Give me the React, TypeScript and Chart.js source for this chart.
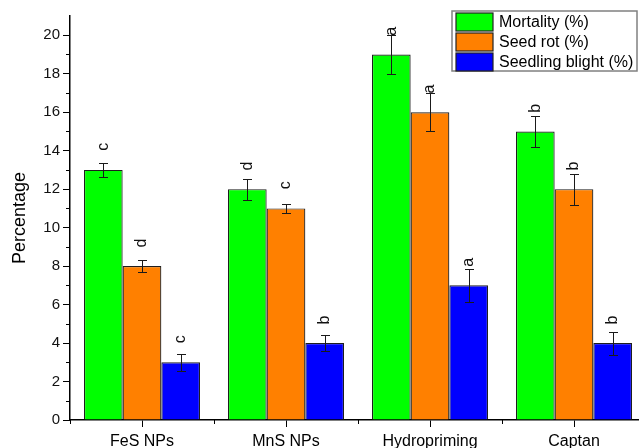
import React, { useEffect, useRef } from "react";
import { Chart, registerables } from "chart.js";

Chart.register(...registerables);

// ---- data ----
const categories = ["FeS NPs", "MnS NPs", "Hydropriming", "Captan"];
const seriesNames = ["Mortality (%)", "Seed rot (%)", "Seedling blight (%)"];
const seriesColors = ["#00FF00", "#FF8000", "#0000FF"];

const mortality = [13, 12, 19, 15];
const seedRot = [8, 11, 16, 12];
const seedlingBlight = [3, 4, 7, 4];

const mortalityErr = [0.35, 0.55, 1.0, 0.8];
const seedRotErr = [0.3, 0.22, 1.0, 0.8];
const seedlingBlightErr = [0.45, 0.4, 0.85, 0.6];

const mortalityLetters = ["c", "d", "a", "b"];
const seedRotLetters = ["d", "c", "a", "b"];
const seedlingBlightLetters = ["c", "b", "a", "b"];

const yTicks = [0, 2, 4, 6, 8, 10, 12, 14, 16, 18, 20];
const yMinorTicks = [1, 3, 5, 7, 9, 11, 13, 15, 17, 19];
const yMin = 0;
const yMax = 21;
const yTitle = "Percentage";

const seriesValues = [mortality, seedRot, seedlingBlight];
const seriesErrors = [mortalityErr, seedRotErr, seedlingBlightErr];
const seriesLetters = [mortalityLetters, seedRotLetters, seedlingBlightLetters];

const FONT = "'Liberation Sans', Arial, sans-serif";

const overlayPlugin = {
  id: "overlay",
  afterDatasetsDraw(chart: any) {
    const ctx = chart.ctx;
    const ys = chart.scales.y;
    const letterOffset = 1.2;
    seriesValues.forEach((vals, di) => {
      const meta = chart.getDatasetMeta(di);
      meta.data.forEach((bar: any, i: number) => {
        const cx = Math.round(bar.x) + 0.5;
        const v = vals[i];
        const e = seriesErrors[di][i];
        const yTop = Math.round(ys.getPixelForValue(v + e)) + 0.5;
        const yBot = Math.round(ys.getPixelForValue(v - e)) + 0.5;
        ctx.save();
        ctx.strokeStyle = "#1a1a1a";
        ctx.lineWidth = 1;
        ctx.beginPath();
        ctx.moveTo(cx, yTop);
        ctx.lineTo(cx, yBot);
        ctx.moveTo(cx - 4.5, yTop);
        ctx.lineTo(cx + 4.5, yTop);
        ctx.moveTo(cx - 4.5, yBot);
        ctx.lineTo(cx + 4.5, yBot);
        ctx.stroke();
        ctx.translate(bar.x, ys.getPixelForValue(v + letterOffset));
        ctx.rotate(-Math.PI / 2);
        ctx.fillStyle = "#111";
        ctx.font = `16px ${FONT}`;
        ctx.textAlign = "center";
        ctx.textBaseline = "middle";
        ctx.fillText(seriesLetters[di][i], 0, 0);
        ctx.restore();
      });
    });
  },
  afterDraw(chart: any) {
    const ctx = chart.ctx;
    const xs = chart.scales.x;
    const ys = chart.scales.y;
    const area = chart.chartArea;
    ctx.save();
    ctx.strokeStyle = "#000";
    ctx.lineWidth = 1;
    // y minor ticks
    ctx.beginPath();
    yMinorTicks.forEach((v) => {
      const py = Math.round(ys.getPixelForValue(v)) + 0.5;
      ctx.moveTo(area.left - 4, py);
      ctx.lineTo(area.left, py);
    });
    // x minor ticks at category boundaries
    const n = categories.length;
    const c0 = xs.getPixelForTick(0);
    const c1 = xs.getPixelForTick(1);
    const half = (c1 - c0) / 2;
    for (let i = 0; i <= n; i++) {
      const px = Math.round(c0 - half + i * 2 * half) + 0.5;
      ctx.moveTo(px, area.bottom);
      ctx.lineTo(px, area.bottom + 4);
    }
    ctx.stroke();

    // legend
    const lx = 452;
    const ly = 11;
    const lw = 185;
    const lh = 60;
    ctx.fillStyle = "#fff";
    ctx.fillRect(lx, ly, lw, lh);
    ctx.strokeStyle = "#808080";
    ctx.lineWidth = 1.5;
    ctx.strokeRect(lx, ly, lw, lh);
    seriesNames.forEach((name, i) => {
      const ry = ly + 2 + i * 20;
      ctx.fillStyle = seriesColors[i];
      ctx.fillRect(456, ry, 37, 18);
      ctx.strokeStyle = "#222";
      ctx.lineWidth = 1.2;
      ctx.strokeRect(456, ry, 37, 18);
      ctx.fillStyle = "#000";
      ctx.font = `16px ${FONT}`;
      ctx.textAlign = "left";
      ctx.textBaseline = "middle";
      ctx.fillText(name, 499, ry + 9.5);
    });
    ctx.restore();
  },
};

export default function App() {
  const ref = useRef<HTMLCanvasElement | null>(null);
  useEffect(() => {
    if (!ref.current) return;
    const chart = new Chart(ref.current, {
      type: "bar",
      data: {
        labels: categories,
        datasets: seriesNames.map((name, i) => ({
          label: name,
          data: seriesValues[i],
          backgroundColor: seriesColors[i],
          borderColor: "#1e1e1e",
          borderWidth: 1.2,
          categoryPercentage: 0.806,
          barPercentage: 1.0,
        })),
      },
      options: {
        responsive: false,
        animation: false,
        devicePixelRatio: 1,
        layout: { padding: { top: 16, right: 0, left: 0, bottom: 0 } },
        plugins: {
          legend: { display: false },
          tooltip: { enabled: false },
        },
        scales: {
          x: {
            grid: {
              offset: false,
              drawOnChartArea: false,
              drawTicks: true,
              tickLength: 7,
              color: "#000",
              lineWidth: 1,
            },
            border: { display: true, color: "#000", width: 1.5 },
            ticks: {
              color: "#000",
              font: { family: FONT, size: 16 },
              padding: 5,
              maxRotation: 0,
            },
            afterFit: (scale: any) => {
              scale.height = 28;
            },
          },
          y: {
            min: yMin,
            max: yMax,
            afterBuildTicks: (scale: any) => {
              scale.ticks = yTicks.map((v) => ({ value: v }));
            },
            grid: {
              drawOnChartArea: false,
              drawTicks: true,
              tickLength: 7,
              color: "#000",
              lineWidth: 1,
            },
            border: { display: true, color: "#000", width: 1.5 },
            ticks: {
              color: "#111",
              font: { family: FONT, size: 15 },
              padding: 3,
            },
            title: {
              display: true,
              text: yTitle,
              color: "#000",
              font: { family: FONT, size: 18 },
              padding: { top: 9, bottom: 0 },
            },
            afterFit: (scale: any) => {
              scale.width = 70;
            },
          },
        },
      },
      plugins: [overlayPlugin],
    });
    return () => chart.destroy();
  }, []);
  return (
    <div
      style={{
        position: "fixed",
        left: 0,
        top: 0,
        width: 639,
        height: 448,
        overflow: "hidden",
        background: "#fff",
      }}
    >
      <canvas ref={ref} width={646} height={448} style={{ display: "block" }} />
    </div>
  );
}
